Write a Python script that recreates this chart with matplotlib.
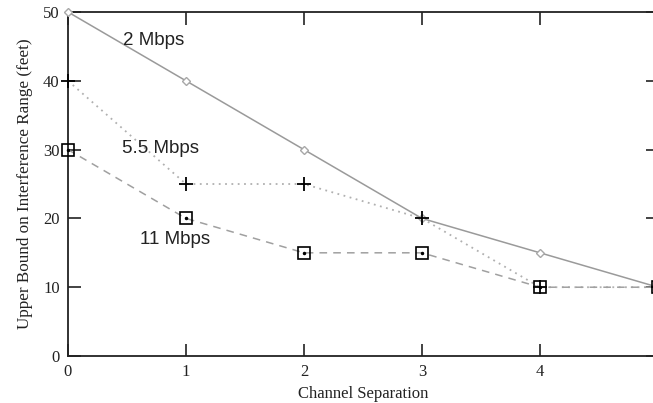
import matplotlib
matplotlib.use("Agg")
import matplotlib.pyplot as plt

# channel separation vs. upper bound on interference range (feet)
separation = [0, 1, 2, 3, 4, 5]
range_2mbps = [50, 40, 30, 20, 15, 10]
range_55mbps = [40, 25, 25, 20, 10, 10]
range_11mbps = [30, 20, 15, 15, 10, 10]

series_labels = ["2 Mbps", "5.5 Mbps", "11 Mbps"]
label_pos = [(0.47, 45.9), (0.46, 30.2), (0.61, 16.9)]

yticks = [0, 10, 20, 30, 40, 50]
xticks = [0, 1, 2, 3, 4, 5]

serif = ["Liberation Serif", "DejaVu Serif"]

fig = plt.figure(figsize=(6.53, 4.03), dpi=100)
ax = fig.add_axes([0.1041, 0.1166, 0.9035, 0.8536])

ax.plot(separation, range_2mbps, color="#9a9a9a", lw=1.1, ls="-",
        marker="D", ms=4.5, mfc="white", mec="#a8a8a8", mew=1.0, clip_on=False, zorder=3)
ax.plot(separation, range_55mbps, color="#b0b0b0", lw=1.3, ls=(0, (1, 2.5)),
        clip_on=False, zorder=2)
ax.plot(separation, range_55mbps, ls="none", marker="+", ms=10, mec="black",
        mew=1.3, clip_on=False, zorder=5)
ax.plot(separation, range_11mbps, color="#a0a0a0", lw=1.1, ls=(0, (5, 4)),
        clip_on=False, zorder=2)
ax.plot(separation, range_11mbps, ls="none", marker="s", ms=8, mfc="none", mec="black",
        mew=1.2, clip_on=False, zorder=4)
ax.plot(separation, range_11mbps, ls="none", marker="o", ms=1.5, mfc="black", mec="black",
        clip_on=False, zorder=4)

for name, (lx, ly) in zip(series_labels, label_pos):
    ax.text(lx, ly, name, fontsize=13.5, va="center", ha="left",
            family=["Liberation Sans", "DejaVu Sans"], color="#222222")

ax.set_xlim(0, 5)
ax.set_ylim(0, 50)
ax.set_xticks(xticks)
ax.set_yticks(yticks)
ax.tick_params(direction="in", length=9, width=1.2, top=True, right=True,
               labelsize=12, pad=6, colors="#222222")
for lab in ax.get_xticklabels() + ax.get_yticklabels():
    lab.set_family(serif)
for sp in ax.spines.values():
    sp.set_linewidth(1.3)
    sp.set_color("#222222")

ax.set_xlabel("Channel Separation", fontsize=12, family=serif, labelpad=4, color="#222222")
ax.set_ylabel("Upper Bound on Interference Range (feet)", fontsize=12.3, family=serif,
              labelpad=7, color="#222222")

fig.savefig("out.png", dpi=100)
